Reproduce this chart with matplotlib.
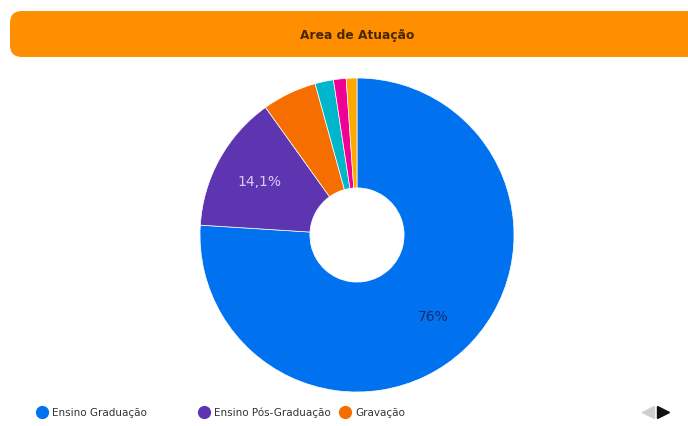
import numpy as np
import matplotlib.pyplot as plt
from matplotlib.patches import FancyBboxPatch

# Data
categories = ["Ensino Graduação", "Ensino Pós-Graduação", "Gravação",
              "Outros 1", "Outros 2", "Outros 3"]
shares = [76.0, 14.1, 5.6, 1.9, 1.3, 1.1]
colors = ["#0072f0", "#5e35b1", "#f66d00", "#00b6cb", "#f10096", "#ffa800"]
legend_shown = 3
title = "Area de Atuação"

W, H = 688, 427
fig = plt.figure(figsize=(W / 100, H / 100), dpi=100)

# overlay in pixel coordinates
bg = fig.add_axes([0, 0, 1, 1])
bg.set_xlim(0, W)
bg.set_ylim(H, 0)
bg.axis("off")

bar = FancyBboxPatch((10, 12), 700, 46, boxstyle="round,pad=0,rounding_size=12",
                     facecolor="#ff8f00", edgecolor="none")
bg.add_patch(bar)
bg.text(357, 36, title, ha="center", va="center", fontsize=8.8,
        fontweight="bold", color="#4a2600")

# legend
leg_x = [42, 204, 345]
for i in range(legend_shown):
    bg.plot(leg_x[i], 413, "o", ms=8.5, color=colors[i])
    bg.text(leg_x[i] + 10, 413, categories[i], ha="left", va="center",
            fontsize=7.5, color="#333333")
bg.plot(648, 413, marker="<", ms=8, color="#cfcfcf")
bg.plot(663, 413, marker=">", ms=8, color="#111111")

# donut
r = 157
cx, cy = 357, 236
ax = fig.add_axes([(cx - r) / W, (H - cy - r) / H, 2 * r / W, 2 * r / H])


def fmt(p):
    if p < 10:
        return ""
    s = f"{p:.1f}".rstrip("0").rstrip(".")
    return s.replace(".", ",") + "%"


wedges, texts, autotexts = ax.pie(
    shares, colors=colors, startangle=90, counterclock=False,
    autopct=fmt, pctdistance=0.71,
    wedgeprops=dict(width=0.70, edgecolor="white", linewidth=0.5),
    textprops=dict(fontsize=10, fontweight="medium"))
autotexts[0].set_color("#1a2a6c")
autotexts[1].set_color("#d8cdf0")
ax.set_xlim(-1, 1)
ax.set_ylim(-1, 1)
ax.set_aspect("equal")
ax.axis("off")

fig.savefig("out.png", dpi=100)
